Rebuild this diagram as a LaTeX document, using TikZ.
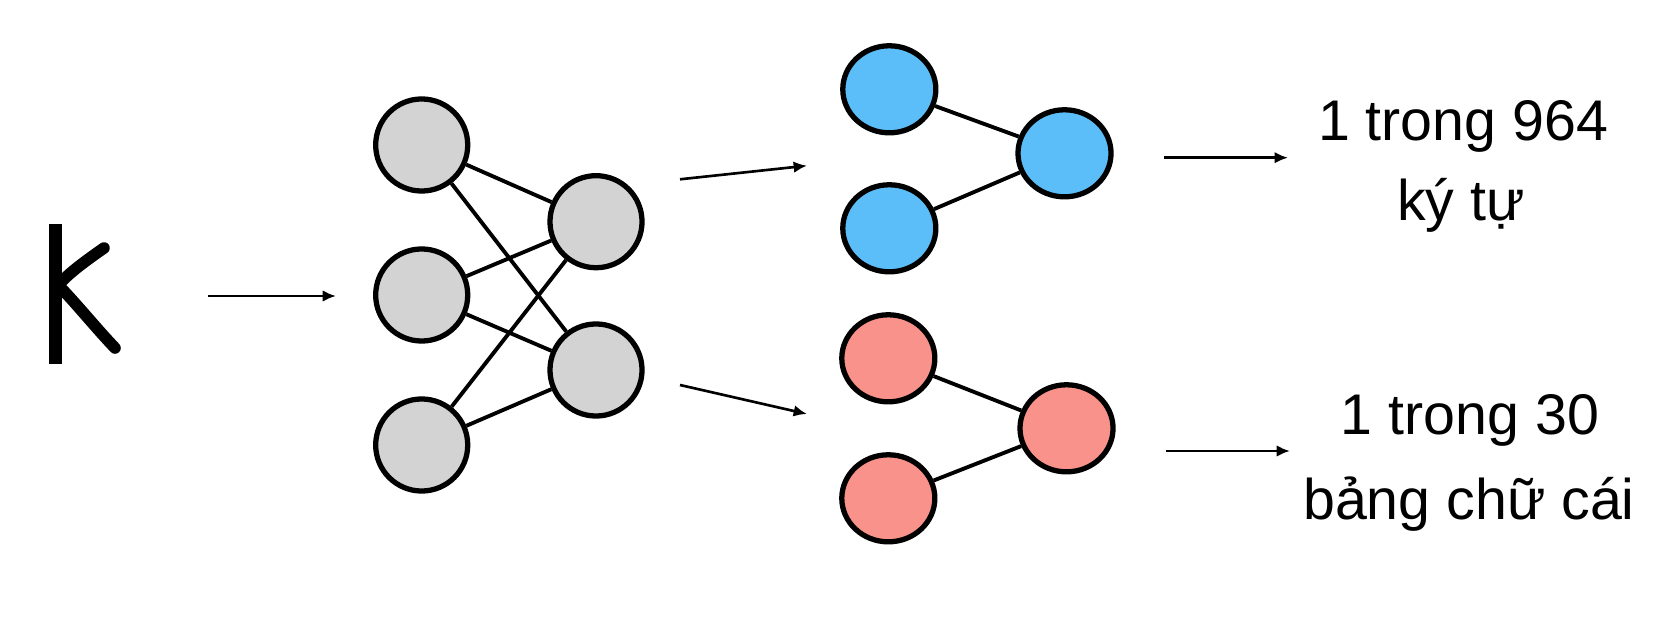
\documentclass[tikz,border=0pt]{standalone}
\usepackage{fontspec}
\setmainfont{Liberation Sans}
\usetikzlibrary{arrows.meta,shapes.geometric}
\definecolor{nodegray}{RGB}{211,211,211}
\definecolor{nodeblue}{RGB}{92,190,249}
\definecolor{nodered}{RGB}{249,146,138}
\begin{document}
\begin{tikzpicture}[x=0.01cm,y=-0.01cm,
  gnode/.style={circle, draw=black, line width=1.5pt, fill=nodegray, minimum size=0.92cm, inner sep=0pt},
  bnode/.style={ellipse, draw=black, line width=1.5pt, fill=nodeblue, minimum width=0.93cm, minimum height=0.87cm, inner sep=0pt},
  rnode/.style={bnode, fill=nodered},
  link/.style={line width=1.1pt},
  flow/.style={line width=0.75pt, -{Latex[length=3.8pt,width=3.3pt]}},
  kstroke/.style={line width=3.3pt, line cap=round, line join=round},
  lbl/.style={font=\fontsize{16.3}{20}\selectfont, anchor=base, inner sep=0pt}]
\useasboundingbox (0,0) rectangle (1680,640);

% hand-drawn K
\draw[line width=3.8pt] (55.7,224) -- (55.7,364);
\draw[kstroke] (61,282) .. controls (72,271) and (84,262) .. (104,248);
\draw[kstroke] (62,289) .. controls (80,308) and (96,328) .. (115,348);

% gray network
\node[gnode] (L1) at (421.7,145) {};
\node[gnode] (L2) at (421.7,295) {};
\node[gnode] (L3) at (421.7,445) {};
\node[gnode] (H1) at (596,221.7) {};
\node[gnode] (H2) at (596,370) {};
\foreach \a in {L1,L2,L3}{
  \foreach \b in {H1,H2}{
    \draw[link] (\a) -- (\b);
  }
}

% blue head
\node[bnode] (B1) at (889.3,89.3) {};
\node[bnode] (B2) at (889.3,228.3) {};
\node[bnode] (B3) at (1064.5,153.3) {};
\draw[link] (B1) -- (B3);
\draw[link] (B2) -- (B3);

% red head
\node[rnode] (R1) at (888.3,358.3) {};
\node[rnode] (R2) at (888.3,498.3) {};
\node[rnode] (R3) at (1066.5,428.3) {};
\draw[link] (R1) -- (R3);
\draw[link] (R2) -- (R3);

% arrows
\coordinate (kout) at (208,296);
\coordinate (netin) at (336,296);
\coordinate (up0) at (680,179.3);
\coordinate (up1) at (807,165.7);
\coordinate (lo0) at (680,385);
\coordinate (lo1) at (807,414);
\coordinate (ob0) at (1164,157.7);
\coordinate (ob1) at (1288,157.7);
\coordinate (or0) at (1166,451);
\coordinate (or1) at (1290,451);
\draw[flow] (kout) -- (netin);
\draw[flow] (up0) -- (up1);
\draw[flow] (lo0) -- (lo1);
\draw[flow] (ob0) -- (ob1);
\draw[flow] (or0) -- (or1);

% labels
\node[lbl] (t1a) at (1463,140.5) {1 trong 964};
\node[lbl] (t1b) at (1461,221) {ký tự};
\node[lbl] (t2a) at (1470,434) {1 trong 30};
\node[lbl] (t2b) at (1469,519) {bảng chữ cái};
\end{tikzpicture}
\end{document}
